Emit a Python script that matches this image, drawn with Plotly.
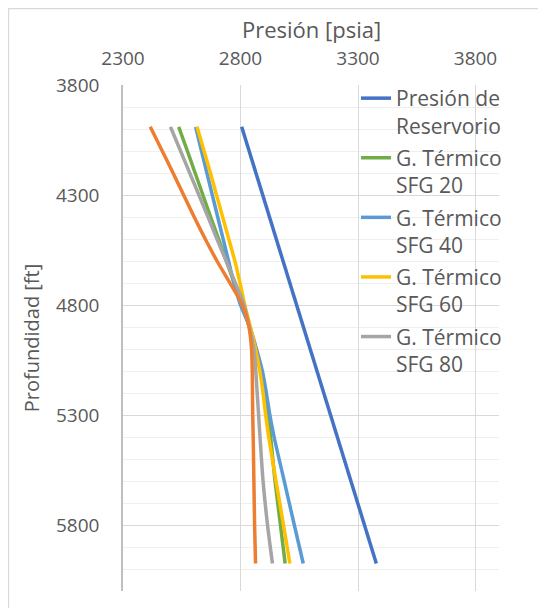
import plotly.graph_objects as go

# ---------------- data ----------------
depth_res = [3990, 4300, 4800, 5300, 5975]
p_reservorio = [2805, 2894, 3037, 3181, 3378]

depth_grad = [3990, 4100, 4200, 4300, 4400, 4500, 4600, 4700, 4800,
              4900, 5000, 5100, 5200, 5300, 5400, 5600, 5800, 5975]

p_sfg20 = [2537, 2574, 2607, 2640, 2673, 2707, 2740, 2773, 2806,
           2838, 2864, 2887, 2903, 2915, 2928, 2947, 2970, 2990]
p_sfg40 = [2609, 2634, 2657, 2680, 2703, 2726, 2749, 2772, 2800,
           2840, 2868, 2893, 2910, 2925, 2943, 2986, 3029, 3067]
p_sfg60 = [2615, 2645, 2672, 2698, 2724, 2750, 2776, 2798, 2818,
           2842, 2864, 2882, 2896, 2907, 2920, 2951, 2983, 3010]
p_sfg80 = [2502, 2545, 2584, 2623, 2662, 2700, 2739, 2778, 2815,
           2838, 2857, 2865, 2871, 2877, 2883, 2896, 2915, 2936]
p_otro = [2416, 2467, 2513, 2558, 2603, 2650, 2700, 2755, 2808,
          2836, 2847, 2850, 2851, 2852, 2854, 2857, 2860, 2864]

x_ticks = [2300, 2800, 3300, 3800]
y_ticks = [3800, 4300, 4800, 5300, 5800]

names = ["Presión de<br>Reservorio", "G. Térmico<br>SFG 20", "G. Térmico<br>SFG 40",
         "G. Térmico<br>SFG 60", "G. Térmico<br>SFG 80"]
colors = ["#4472C4", "#70AD47", "#5B9BD5", "#FFC000", "#A5A5A5", "#ED7D31"]
x_title = "Presión [psia]"
y_title = "Profundidad [ft]"

FONT = "Open Sans"
TXT = "#595959"
LW = 3.5

fig = go.Figure()
fig.add_trace(go.Scatter(x=p_reservorio, y=depth_res, mode="lines", name=names[0],
                         line=dict(color=colors[0], width=LW), legendgroup="a"))
for i, vals in enumerate([p_sfg20, p_sfg40, p_sfg60, p_sfg80]):
    fig.add_trace(go.Scatter(x=vals, y=depth_grad, mode="lines", name=names[i + 1],
                             line=dict(color=colors[i + 1], width=LW, shape="spline", smoothing=0.8),
                             legendgroup="g%d" % i))
fig.add_trace(go.Scatter(x=p_otro, y=depth_grad, mode="lines", name="Serie 6", showlegend=False,
                         line=dict(color=colors[5], width=LW, shape="spline", smoothing=0.8)))

# figure-pixel layout (page body adds an 8 px offset)
W, H = 546, 608
L, R, T, B = 115, 55, 77, 25
pw, ph = W - L - R, H - T - B
def px(x):
    return (x - L) / pw
def py(y):
    return (H - B - y) / ph

fig.add_shape(type="rect", xref="paper", yref="paper",
              x0=px(0.6), x1=px(560), y0=py(620), y1=py(0.6),
              line=dict(color="#d9d9d9", width=1.2), fillcolor="rgba(0,0,0,0)", layer="below")

# x-axis title (top)
fig.add_annotation(text=x_title, xref="paper", yref="paper", x=0.5, y=py(21),
                   xanchor="center", yanchor="middle", showarrow=False,
                   font=dict(size=22, color=TXT, family=FONT))

fig.update_layout(
    width=W, height=H,
    margin=dict(l=L, r=R, t=T, b=B, autoexpand=False),
    paper_bgcolor="white", plot_bgcolor="white",
    font=dict(family=FONT, size=19, color=TXT),
    showlegend=True,
    legend=dict(x=px(348), y=py(70), xanchor="left", yanchor="top",
                bgcolor="rgba(0,0,0,0)", font=dict(size=21, color=TXT),
                valign="top", tracegroupgap=2, itemwidth=30, maxheight=520),
    xaxis=dict(side="top", range=[2300, 3900], tickvals=x_ticks, automargin=False,
               showgrid=True, gridcolor="#d9d9d9", gridwidth=1.3,
               showline=False, zeroline=False, ticks="", ticklabelstandoff=15,
               tickfont=dict(size=19, color=TXT)),
    yaxis=dict(range=[6100, 3800], tickvals=y_ticks, automargin=False,
               showgrid=True, gridcolor="#d9d9d9", gridwidth=1.3,
               minor=dict(dtick=100, tick0=3800, showgrid=True, gridcolor="#efefef", gridwidth=1.3),
               showline=True, linecolor="#bfbfbf", linewidth=1.5,
               zeroline=False, ticks="", ticklabelstandoff=18,
               tickfont=dict(size=19, color=TXT),
               title=dict(text=y_title, font=dict(size=20, color=TXT), standoff=11)),
)

fig.write_html("out.html")
